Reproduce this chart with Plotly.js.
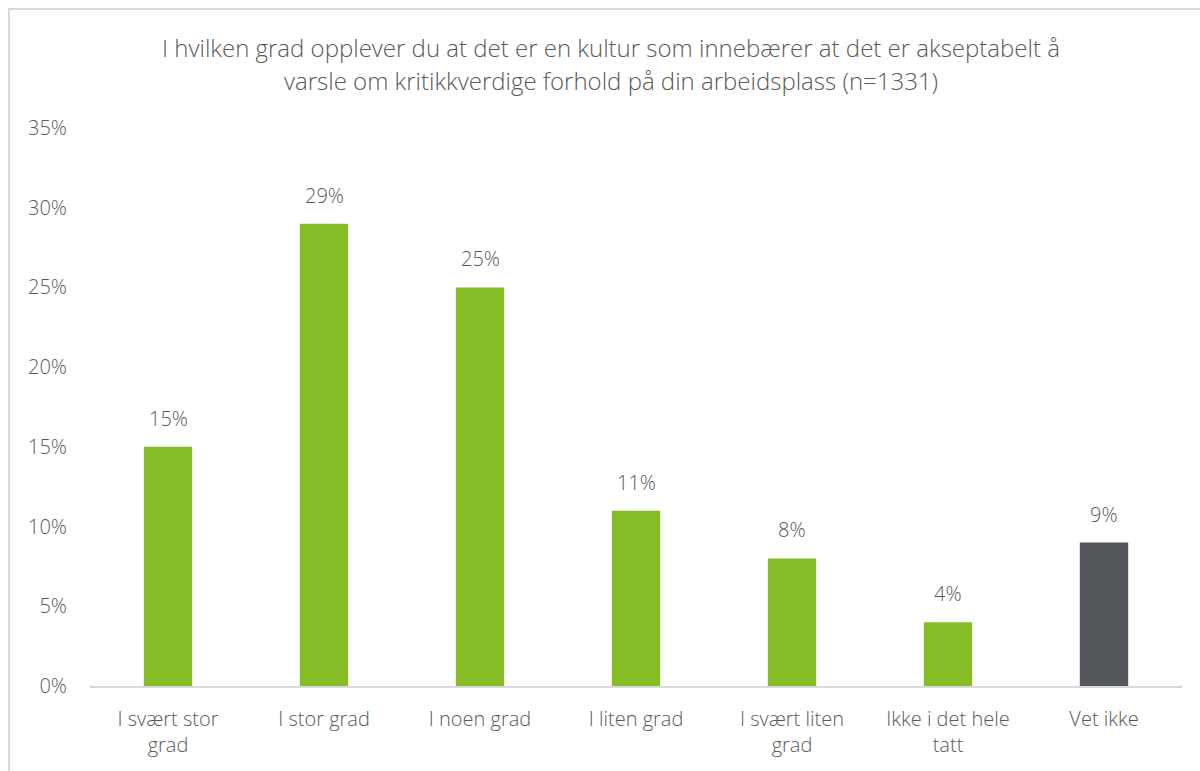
<!DOCTYPE html>
<html><head><meta charset="utf-8">
<script src="https://cdn.plot.ly/plotly-3.0.1.min.js"></script>
<style>
html,body{margin:0;padding:0;background:#fff;overflow:hidden;}
#chart{position:absolute;left:0;top:0;width:1200px;height:771px;}
#frame{position:absolute;left:8px;top:8px;width:1300px;height:900px;border:2px solid #d9d9d9;pointer-events:none;}
</style></head>
<body>
<div id="chart"></div>
<div id="frame"></div>
<script>
const categories = ["I svært stor<br>grad","I stor grad","I noen grad","I liten grad","I svært liten<br>grad","Ikke i det hele<br>tatt","Vet ikke"];
const values = [0.15,0.29,0.25,0.11,0.08,0.04,0.09];
const labels = ["15%","29%","25%","11%","8%","4%","9%"];
const barColors = ["#86bc25","#86bc25","#86bc25","#86bc25","#86bc25","#86bc25","#53565a"];
const titleLines = ["I hvilken grad opplever du at det er en kultur som innebærer at det er akseptabelt å",
                    "varsle om kritikkverdige forhold på din arbeidsplass (n=1331)"];

const FAM = "Open Sans, sans-serif";
const font = {family:FAM, size:20, color:"#595959", weight:300};

const annotations = values.map((v,i)=>({
  x:categories[i], y:v, xref:"x", yref:"y", text:labels[i], showarrow:false,
  yanchor:"bottom", yshift:13, font:{family:FAM, size:20, color:"#595959", weight:300}
}));
titleLines.forEach((t,i)=>annotations.push({
  text:t, xref:"paper", yref:"paper", x:0.477, y:1, yanchor:"middle", xanchor:"center",
  yshift:[81,48][i], showarrow:false,
  font:{family:FAM, size:24, color:"#595959", weight:300}
}));

Plotly.newPlot("chart", [{
  type:"bar", x:categories, y:values,
  marker:{color:barColors},
  hoverinfo:"none"
}], {
  width:1200, height:771,
  margin:{l:90, r:18, t:128, b:85},
  paper_bgcolor:"#fff", plot_bgcolor:"#fff",
  font:font,
  bargap:0.69,
  showlegend:false,
  annotations:annotations,
  xaxis:{showline:true, linecolor:"#d9d9d9", linewidth:2, ticks:"", showgrid:false,
         tickfont:font, ticklabelstandoff:14, fixedrange:true},
  yaxis:{range:[0,0.35], dtick:0.05, tickformat:".0%", showgrid:false, zeroline:false,
         showline:false, ticks:"", tickfont:font, ticklabelstandoff:22, fixedrange:true}
}, {staticPlot:true});
</script>
</body></html>
